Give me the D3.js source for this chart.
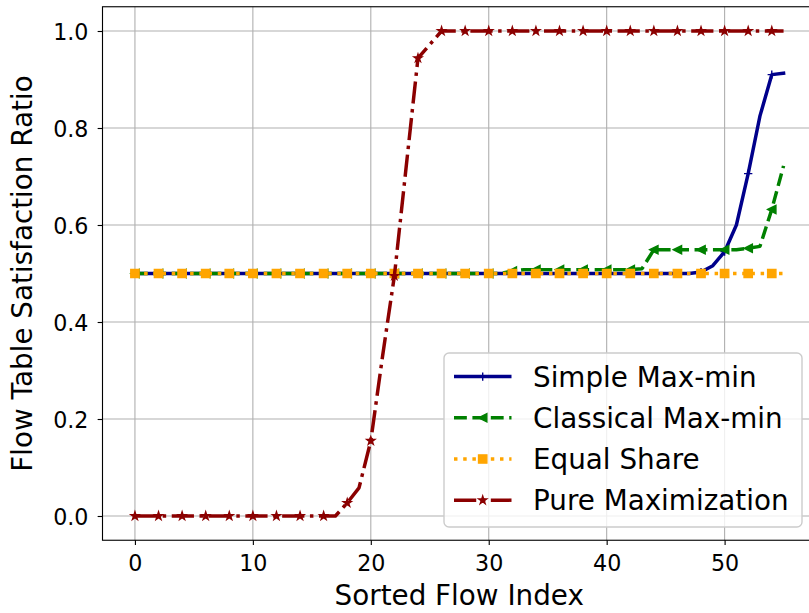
<!DOCTYPE html>
<html>
<head>
<meta charset="utf-8">
<script src="https://cdn.jsdelivr.net/npm/d3@7/dist/d3.min.js"></script>
<style>
  body { margin: 0; background: #fff; }
  svg { display: block; font-family: "DejaVu Sans", sans-serif; }
</style>
</head>
<body>
<svg id="chart" width="809" height="613"></svg>
<script>
// Sorted flow indices (x) and each policy's satisfaction ratio (y)
const flowIndex = [
  0, 1, 2, 3, 4, 5, 6, 7, 8, 9, 10, 11, 12, 13, 14, 15, 16, 17, 18, 19,
  20, 21, 22, 23, 24, 25, 26, 27, 28, 29, 30, 31, 32, 33, 34, 35, 36, 37, 38, 39,
  40, 41, 42, 43, 44, 45, 46, 47, 48, 49, 50, 51, 52, 53, 54, 55
];
const simpleMaxMin = [
  0.5, 0.5, 0.5, 0.5, 0.5, 0.5, 0.5, 0.5, 0.5, 0.5, 0.5, 0.5, 0.5, 0.5, 0.5, 0.5, 0.5, 0.5, 0.5, 0.5,
  0.5, 0.5, 0.5, 0.5, 0.5, 0.5, 0.5, 0.5, 0.5, 0.5, 0.5, 0.5, 0.5, 0.5, 0.5, 0.5, 0.5, 0.5, 0.5, 0.5,
  0.5, 0.5, 0.5, 0.5, 0.5, 0.5, 0.5, 0.5, 0.503, 0.516, 0.545, 0.6, 0.706, 0.825, 0.91, 0.913
];
const classicalMaxMin = [
  0.5, 0.5, 0.5, 0.5, 0.5, 0.5, 0.5, 0.5, 0.5, 0.5, 0.5, 0.5, 0.5, 0.5, 0.5, 0.5, 0.5, 0.5, 0.5, 0.5,
  0.5, 0.5, 0.5, 0.5, 0.5, 0.5, 0.5, 0.5, 0.5, 0.5, 0.5, 0.5, 0.505, 0.508, 0.508, 0.508, 0.508, 0.508, 0.508, 0.508,
  0.508, 0.508, 0.508, 0.51, 0.549, 0.549, 0.549, 0.549, 0.549, 0.549, 0.549, 0.549, 0.552, 0.556, 0.632, 0.722
];
const equalShare = [
  0.5, 0.5, 0.5, 0.5, 0.5, 0.5, 0.5, 0.5, 0.5, 0.5, 0.5, 0.5, 0.5, 0.5, 0.5, 0.5, 0.5, 0.5, 0.5, 0.5,
  0.5, 0.5, 0.5, 0.5, 0.5, 0.5, 0.5, 0.5, 0.5, 0.5, 0.5, 0.5, 0.5, 0.5, 0.5, 0.5, 0.5, 0.5, 0.5, 0.5,
  0.5, 0.5, 0.5, 0.5, 0.5, 0.5, 0.5, 0.5, 0.5, 0.5, 0.5, 0.5, 0.5, 0.5, 0.5, 0.5
];
const pureMaximization = [
  0, 0, 0, 0, 0, 0, 0, 0, 0, 0, 0, 0, 0, 0, 0, 0, 0, 0, 0.027, 0.058,
  0.155, 0.33, 0.495, 0.72, 0.944, 0.972, 1, 1, 1, 1, 1, 1, 1, 1, 1, 1, 1, 1, 1, 1,
  1, 1, 1, 1, 1, 1, 1, 1, 1, 1, 1, 1, 1, 1, 1, 1
];

const seriesNames = ["Simple Max-min", "Classical Max-min", "Equal Share", "Pure Maximization"];
const xTicks = [0, 10, 20, 30, 40, 50];
const yTicks = [0.0, 0.2, 0.4, 0.6, 0.8, 1.0];
const xLabel = "Sorted Flow Index";
const yLabel = "Flow Table Satisfaction Ratio";

// ---- styling ----
const PT = 100 / 72;           // points -> px at 100 dpi
const LW = 2.5 * PT;           // line width
const MS = 6 * PT;             // marker size
const MEW = 1 * PT;            // marker edge width
const styles = [
  { color: "#00008b", dash: null, marker: "plus", values: simpleMaxMin },
  { color: "#008000", dash: [3.7, 1.6].map(v => v * LW), marker: "triLeft", values: classicalMaxMin },
  { color: "#ffa500", dash: [1, 1.65].map(v => v * LW), marker: "square", values: equalShare },
  { color: "#8b0000", dash: [6.4, 1.6, 1, 1.6].map(v => v * LW), marker: "star", values: pureMaximization }
];

const svg = d3.select("#chart");
const plot = { left: 102.5, right: 816, top: 6.75, bottom: 540.25 };

const x = d3.scaleLinear().domain([-2.75, 57.75]).range([plot.left, plot.right]);
const y = d3.scaleLinear().domain([-0.05, 1.05]).range([plot.bottom, plot.top]);

svg.append("rect").attr("width", 809).attr("height", 613).attr("fill", "#fff");

svg.append("defs").append("clipPath").attr("id", "plot-clip")
  .append("rect")
  .attr("x", plot.left).attr("y", plot.top)
  .attr("width", plot.right - plot.left).attr("height", plot.bottom - plot.top);

// grid
const grid = svg.append("g").attr("stroke", "#b0b0b0").attr("stroke-width", 0.8 * PT);
grid.selectAll(".gx").data(xTicks).join("line")
  .attr("x1", d => x(d)).attr("x2", d => x(d))
  .attr("y1", plot.top).attr("y2", plot.bottom);
grid.selectAll(".gy").data(yTicks).join("line")
  .attr("x1", plot.left).attr("x2", plot.right)
  .attr("y1", d => y(d)).attr("y2", d => y(d));

// marker shapes
function markerPath(kind, r) {
  if (kind === "plus") return `M${-r},0H${r}M0,${-r}V${r}`;
  if (kind === "triLeft") return `M${-r},0L${r},${-r}L${r},${r}Z`;
  if (kind === "square") return `M${-r},${-r}H${r}V${r}H${-r}Z`;
  if (kind === "star") {
    const inner = r * 0.381966;
    const pts = [];
    for (let i = 0; i < 10; i++) {
      const a = -Math.PI / 2 + i * Math.PI / 5;
      const rr = i % 2 === 0 ? r : inner;
      pts.push([rr * Math.cos(a), rr * Math.sin(a)]);
    }
    return "M" + pts.map(p => p.join(",")).join("L") + "Z";
  }
  return "";
}
function drawMarker(g, s, cx, cy) {
  const p = g.append("path")
    .attr("d", markerPath(s.marker, MS / 2))
    .attr("transform", `translate(${cx},${cy})`)
    .attr("stroke", s.color)
    .attr("stroke-width", MEW)
    .attr("stroke-linejoin", "miter");
  p.attr("fill", s.marker === "plus" ? "none" : s.color);
}

// series
const line = d3.line().x(d => x(d[0])).y(d => y(d[1]));
const plotG = svg.append("g").attr("clip-path", "url(#plot-clip)");
styles.forEach(s => {
  const pts = flowIndex.map((fi, i) => [fi, s.values[i]]);
  const g = plotG.append("g");
  g.append("path")
    .attr("d", line(pts))
    .attr("fill", "none")
    .attr("stroke", s.color)
    .attr("stroke-width", LW)
    .attr("stroke-linejoin", "round")
    .attr("stroke-linecap", s.dash ? "butt" : "square")
    .attr("stroke-dasharray", s.dash ? s.dash.join(" ") : null);
  pts.filter((d, i) => i % 2 === 0).forEach(d => drawMarker(g, s, x(d[0]), y(d[1])));
});

// axes
const tickLen = 3.5 * PT;
const xAxis = svg.append("g").attr("transform", `translate(0,${plot.bottom})`)
  .call(d3.axisBottom(x).tickValues(xTicks).tickFormat(d3.format("d"))
    .tickSize(tickLen).tickSizeOuter(0));
xAxis.select(".domain").remove();
xAxis.selectAll("line").attr("stroke", "#000").attr("stroke-width", 0.8 * PT);
xAxis.selectAll("text")
  .attr("y", 30.4).attr("dy", null)
  .attr("fill", "#000").style("font-size", "22.2px").style("font-family", "DejaVu Sans");

const yAxis = svg.append("g").attr("transform", `translate(${plot.left},0)`)
  .call(d3.axisLeft(y).tickValues(yTicks).tickFormat(d3.format(".1f"))
    .tickSize(tickLen).tickSizeOuter(0));
yAxis.select(".domain").remove();
yAxis.selectAll("line").attr("stroke", "#000").attr("stroke-width", 0.8 * PT);
yAxis.selectAll("text")
  .attr("x", -14).attr("dy", "0.36em")
  .attr("fill", "#000").style("font-size", "22.2px").style("font-family", "DejaVu Sans");

// spines
const spines = svg.append("g").attr("stroke", "#000").attr("stroke-width", 0.8 * PT).attr("fill", "none");
spines.append("rect")
  .attr("x", plot.left).attr("y", plot.top)
  .attr("width", plot.right - plot.left).attr("height", plot.bottom - plot.top);

// axis titles
svg.append("text")
  .attr("x", (plot.left + plot.right) / 2).attr("y", 605)
  .attr("text-anchor", "middle").attr("fill", "#000")
  .style("font-size", "27.8px")
  .text(xLabel);
svg.append("text")
  .attr("transform", `translate(32,${(plot.top + plot.bottom) / 2}) rotate(-90)`)
  .attr("text-anchor", "middle").attr("fill", "#000")
  .style("font-size", "27.8px")
  .text(yLabel);

// legend
const legend = svg.append("g");
legend.append("rect")
  .attr("x", 444).attr("y", 353).attr("width", 358).attr("height", 174)
  .attr("rx", 5).attr("ry", 5)
  .attr("fill", "#fff").attr("fill-opacity", 0.8)
  .attr("stroke", "#cccccc").attr("stroke-width", 1 * PT);
styles.forEach((s, i) => {
  const cy = 376.6 + i * 41.2;
  const g = legend.append("g");
  g.append("line")
    .attr("x1", 454).attr("x2", 511.5).attr("y1", cy).attr("y2", cy)
    .attr("stroke", s.color).attr("stroke-width", LW)
    .attr("stroke-dasharray", s.dash ? s.dash.join(" ") : null);
  drawMarker(g, s, 482.7, cy);
  g.append("text")
    .attr("x", 533).attr("y", cy + 10)
    .attr("fill", "#000").style("font-size", "27.8px")
    .text(seriesNames[i]);
});
</script>
</body>
</html>
